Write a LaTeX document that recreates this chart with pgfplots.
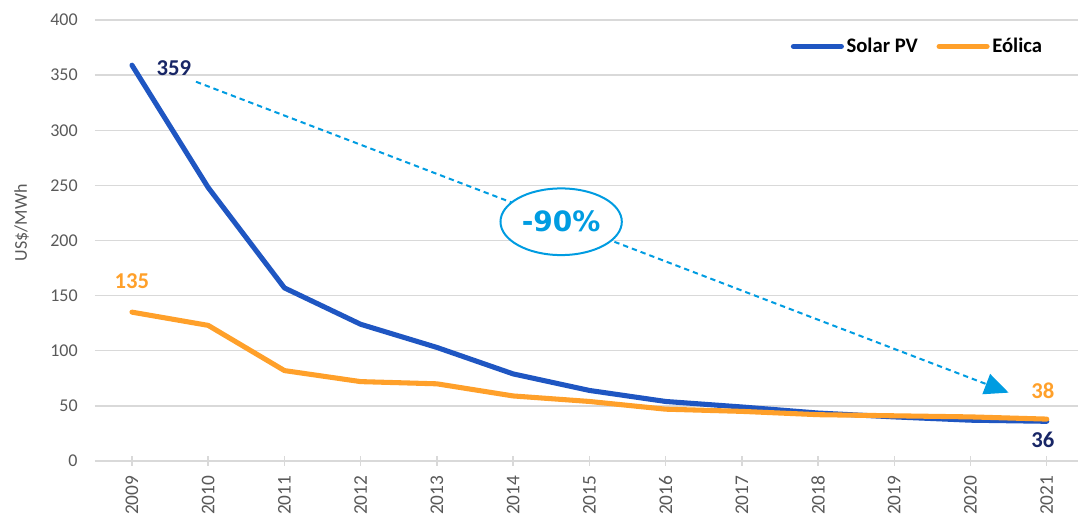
\documentclass[border=0pt]{standalone}
\usepackage{fontspec}
\setmainfont{Carlito}
\newfontfamily\djv{DejaVu Sans}
\usepackage{pgfplots}
\pgfplotsset{compat=1.18}
\usetikzlibrary{arrows.meta,shapes.geometric}
\definecolor{solar}{RGB}{31,86,194}
\definecolor{eol}{RGB}{255,160,42}
\definecolor{navy}{RGB}{24,38,102}
\definecolor{cyanb}{RGB}{0,156,225}
\definecolor{tickgray}{RGB}{89,89,89}
\definecolor{gridgray}{RGB}{217,217,217}
\begin{document}
\begin{tikzpicture}
\begin{axis}[
  scale only axis,
  width=737.25pt, height=330.75pt,
  xmin=-0.485, xmax=12.41, ymin=0, ymax=400,
  xtick={0,...,12},
  xticklabels={2009,2010,2011,2012,2013,2014,2015,2016,2017,2018,2019,2020,2021},
  xticklabel style={rotate=90, anchor=east, font=\fontsize{14.5}{16}\selectfont, text=tickgray, xshift=-4pt},
  ytick={0,50,...,400},
  yticklabel style={font=\fontsize{13.5}{16}\selectfont, text=tickgray, xshift=-6pt},
  /pgf/number format/assume math mode=true,
  ymajorgrids, grid style={gridgray, line width=1.1pt},
  axis x line*=bottom, axis y line*=left,
  x axis line style={gridgray, line width=1.1pt},
  y axis line style={draw=none},
  xtick style={gridgray, line width=1.1pt},
  ytick style={draw=none},
  tick align=center, major tick length=7pt,
  ylabel={US\$/MWh},
  ylabel style={at={(rel axis cs:0,0.54)}, anchor=center, rotate=0, yshift=55pt, font=\fontsize{13.5}{16}\selectfont, text=tickgray},
  clip=false,
  legend columns=2,
  legend style={draw=none, fill=none, at={(rel axis cs:0.837,0.94)}, anchor=center,
    font=\fontsize{15.5}{18}\selectfont\bfseries, /tikz/every even column/.append style={column sep=12pt}},
  legend image code/.code={\draw[#1, line cap=round] (0pt,0pt) -- (36pt,0pt);},
]
\coordinate (sw) at (rel axis cs:0,0);
\coordinate (ne) at (rel axis cs:1,1);
\addplot[solar, line width=3.8pt, line join=round, line cap=round] coordinates {
(0,359) (1,248) (2,157) (3,124) (4,103) (5,79) (6,64) (7,54) (8,49) (9,43.5) (10,40) (11,37) (12,36)};
\addlegendentry{Solar PV}
\addplot[eol, line width=3.8pt, line join=round, line cap=round] coordinates {
(0,135) (1,123) (2,82) (3,72) (4,70) (5,59) (6,54) (7,47) (8,45) (9,42) (10,41) (11,40) (12,38)};
\addlegendentry{Eólica}
\draw[cyanb, line width=1.5pt, dash pattern=on 4pt off 3pt, -{Triangle[length=18pt,width=16pt]}] (axis cs:0.84,344) -- (axis cs:11.5,62);
\node[draw=cyanb, fill=white, ellipse, line width=1.5pt, minimum width=91pt, minimum height=50pt, inner sep=0pt, text=cyanb, font=\djv\bfseries\fontsize{21}{24}\selectfont] at (axis cs:5.63,217) {-90\%};
\node[text=navy, font=\fontsize{17}{20}\selectfont\bfseries] at (axis cs:0.55,356) {359};
\node[text=eol, font=\fontsize{17}{20}\selectfont\bfseries] at (axis cs:0,163) {135};
\node[text=eol, font=\fontsize{17}{20}\selectfont\bfseries] at (axis cs:11.95,64) {38};
\node[text=navy, font=\fontsize{17}{20}\selectfont\bfseries] at (axis cs:11.95,19) {36};
\end{axis}
\pgfresetboundingbox
\path ([shift={(-71.25pt,-46.5pt)}]sw) rectangle ([shift={(0pt,15pt)}]ne);
\end{tikzpicture}
\end{document}
